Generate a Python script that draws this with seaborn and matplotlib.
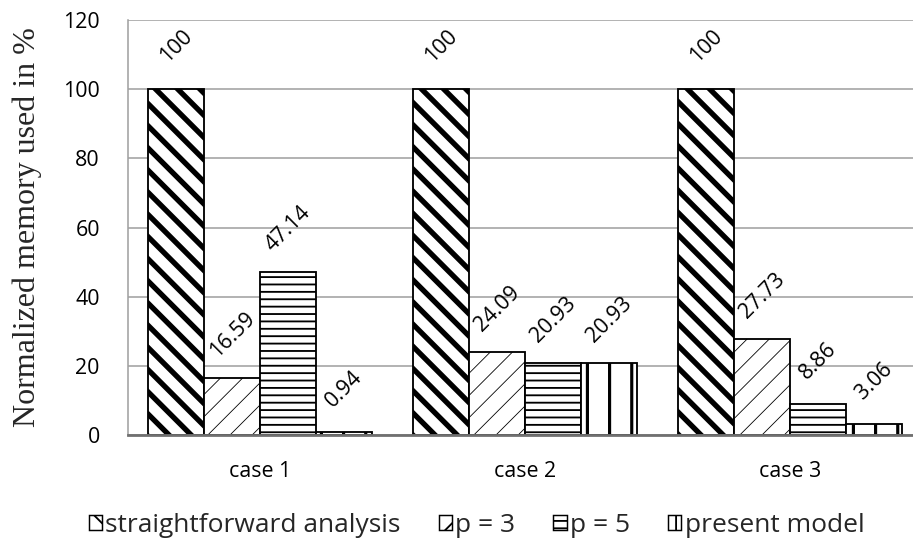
import matplotlib
matplotlib.use("Agg")
import matplotlib.pyplot as plt
import matplotlib.patches as mpatches
import seaborn as sns
import pandas as pd

cases = ["case 1", "case 2", "case 3"]
methods = ["straightforward analysis", "p = 3", "p = 5", "present model"]
straightforward = [100, 100, 100]
p3 = [16.59, 24.09, 27.73]
p5 = [47.14, 20.93, 8.86]
present = [0.94, 20.93, 3.06]
yticks = [0, 20, 40, 60, 80, 100, 120]

series = [straightforward, p3, p5, present]
rows = []
for m, vals in zip(methods, series):
    for c, v in zip(cases, vals):
        rows.append({"case": c, "method": m, "value": v})
df = pd.DataFrame(rows)

sns.set_style("white")
plt.rcParams["font.family"] = ["Open Sans", "DejaVu Sans"]

DPI = 133
fig = plt.figure(figsize=(913 / DPI, 549 / DPI), dpi=DPI)
ax = fig.add_axes([127.5 / 913, 114 / 549, 795 / 913, 415 / 549])

sns.barplot(data=df, x="case", y="value", hue="method", order=cases,
            hue_order=methods, palette=["white"] * 4, edgecolor="black",
            linewidth=1.0, width=0.845, gap=0, ax=ax, legend=False,
            errorbar=None, zorder=3)

hatches = ["\\\\", "//", "---", "|"]
hatch_lw = [2.9, 0.45, 1.0, 1.7]
for cont, h, hl in zip(ax.containers, hatches, hatch_lw):
    for bar in cont:
        bar.set_hatch(h)
        if hasattr(bar, "set_hatch_linewidth"):
            bar.set_hatch_linewidth(hl)
        else:
            bar._hatch_linewidth = hl
        bar.set_zorder(3)

# value labels
for cont, vals in zip(ax.containers, series):
    for bar, v in zip(cont, vals):
        ax.annotate(f"{v:g}", (bar.get_x() + bar.get_width() / 2, bar.get_height()),
                    xytext=(0, 43), textcoords="offset pixels", rotation=45,
                    ha="center", va="center", fontsize=11.6, color="black",
                    zorder=5)

ax.set_ylim(0, 120)
ax.set_yticks(yticks)
ax.set_xlim(-0.5, 2.5)
ax.yaxis.grid(True, color="#a0a0a0", linewidth=0.85, zorder=0)
ax.set_axisbelow(True)
for s in ["top", "right"]:
    ax.spines[s].set_visible(False)
ax.spines["left"].set_color("#a0a0a0")
ax.spines["left"].set_linewidth(0.85)
ax.spines["bottom"].set_color("#707070")
ax.spines["bottom"].set_linewidth(1.5)
ax.spines["bottom"].set_zorder(4)
ax.tick_params(axis="both", length=0, labelsize=11.6, colors="black")
ax.tick_params(axis="y", pad=15)
ax.tick_params(axis="x", pad=14)
ax.set_xlabel("")
ax.set_ylabel("Normalized memory used in %", fontsize=17.3,
              family=["Liberation Serif", "DejaVu Serif"])
ax.yaxis.set_label_coords(-0.108, 0.5)

handles = [mpatches.Patch(facecolor="white", edgecolor="black", hatch=h,
                          linewidth=0.8) for h in hatches]
fig.legend(handles, methods, loc="center", bbox_to_anchor=(0.522, 0.043),
           ncol=4, frameon=False, fontsize=14.3, handlelength=0.5,
           handleheight=0.5, handletextpad=0.12, columnspacing=1.45,
           borderpad=0.1)

fig.savefig("out.png", dpi=DPI)
